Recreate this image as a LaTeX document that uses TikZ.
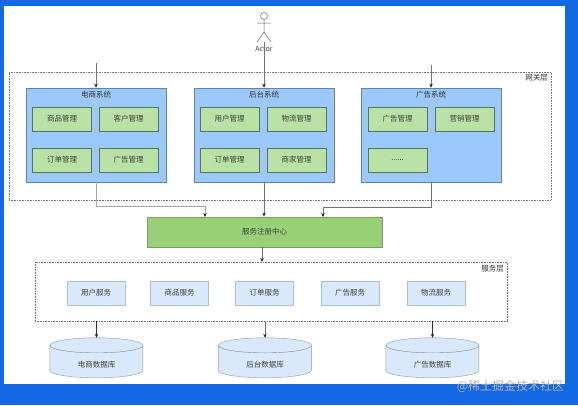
\documentclass[tikz,border=0pt]{standalone}
\usepackage{fontspec}
\setmainfont{Noto Sans CJK SC}
\usetikzlibrary{arrows.meta}
\definecolor{bgblue}{HTML}{1368E4}
\definecolor{sysblue}{HTML}{9CC9FB}
\definecolor{sysedge}{HTML}{5F83A8}
\definecolor{modgreen}{HTML}{B9E0A5}
\definecolor{modedge}{HTML}{56755A}
\definecolor{svcfill}{HTML}{DAE8FC}
\definecolor{svcedge}{HTML}{A9BDD8}
\definecolor{dbedge}{HTML}{8A9AB2}
\definecolor{regfill}{HTML}{97D077}
\definecolor{regedge}{HTML}{7E9A6C}
\tikzset{
  x=1pt,y=-1pt,
  sysbox/.style={draw=sysedge,fill=sysblue,line width=.7pt,inner sep=0pt,minimum width=140pt,minimum height=94pt},
  modbox/.style={draw=modedge,fill=modgreen,line width=.8pt,minimum width=59pt,minimum height=24pt,inner sep=0pt,font=\fontsize{7.5}{9}\selectfont,text=black!75},
  svcbox/.style={draw=svcedge,fill=svcfill,line width=.4pt,minimum width=58pt,minimum height=24pt,inner sep=0pt,font=\fontsize{7.5}{9}\selectfont,text=black!75},
  layerbox/.style={draw=black!55,densely dotted,line width=.6pt,inner sep=0pt},
  dbbox/.style={inner sep=0pt,minimum width=93pt,minimum height=40pt},
  dbline/.style={draw=dbedge,fill=svcfill,line width=.4pt},
  lab/.style={inner sep=0pt,font=\fontsize{7.5}{9}\selectfont,text=black!80},
  conn/.style={draw=black!55,line width=.8pt,-{Stealth[length=4pt,width=3.5pt,color=black!85]}},
}
\newcommand{\dbdraw}[2]{%
  \node[dbbox] (#1) at (#2,358) {};
  \path[dbline] (#1.north west) ++(0,7.5) arc[start angle=180,end angle=360,x radius=46.5,y radius=-7.5] -- ++(0,25) arc[start angle=0,end angle=-180,x radius=46.5,y radius=-7.5] -- cycle;
  \path[dbline] (#1.north) ++(0,7.5) ellipse[x radius=46.5,y radius=7.5];
}
\begin{document}
\begin{tikzpicture}
\useasboundingbox (0,0) rectangle (578,405);
\fill[bgblue] (0,0) rectangle (578,405);
\fill[white] (4,6) rectangle (565,384);
% layers
\node[layerbox,minimum width=542pt,minimum height=128pt] (gw) at (280,136) {};
\node[layerbox,minimum width=472pt,minimum height=59pt] (svclayer) at (271,291.5) {};
\node[lab,anchor=north east] (gwlab) at (548,74.5) {网关层};
\node[lab,anchor=north east] (svclab) at (504,264.5) {服务层};
% systems
\node[sysbox] (s1) at (96,135) {};
\node[sysbox] (s2) at (264,135) {};
\node[sysbox] (s3) at (431,135) {};
\node[lab] (s1t) at (96,94.5) {电商系统};
\node[lab] (s2t) at (264,95) {后台系统};
\node[lab] (s3t) at (431,95) {广告系统};
\node[modbox] (m11) at (62,119) {商品管理};
\node[modbox] (m12) at (128.5,119) {客户管理};
\node[modbox] (m13) at (62,160) {订单管理};
\node[modbox] (m14) at (128.5,160) {广告管理};
\node[modbox] (m21) at (229.5,119) {用户管理};
\node[modbox] (m22) at (296.5,119) {物流管理};
\node[modbox] (m23) at (229.5,160) {订单管理};
\node[modbox] (m24) at (296.5,160) {商家管理};
\node[modbox] (m31) at (397.5,119) {广告管理};
\node[modbox] (m32) at (464.5,119) {营销管理};
\node[modbox] (m33) at (397.5,160) {......};
% registry
\node[draw=regedge,fill=regfill,line width=.8pt,minimum width=235pt,minimum height=30pt,inner sep=0pt,font=\fontsize{7.5}{9}\selectfont,text=black!75] (reg) at (264.5,232) {服务注册中心};
% services
\node[svcbox] (v1) at (96,293) {用户服务};
\node[svcbox] (v2) at (179.5,293) {商品服务};
\node[svcbox] (v3) at (264.5,293) {订单服务};
\node[svcbox] (v4) at (350,293) {广告服务};
\node[svcbox] (v5) at (436,293) {物流服务};
% databases
\dbdraw{d1}{96.5}
\dbdraw{d2}{265}
\dbdraw{d3}{432.5}
\node[lab,text=black!75] (d1t) at (96.5,365) {电商数据库};
\node[lab,text=black!75] (d2t) at (265,365) {后台数据库};
\node[lab,text=black!75] (d3t) at (432.5,365) {广告数据库};
% actor
\coordinate (ah) at (264,16);
\draw[black!60,line width=.5pt,fill=white] (ah) circle (3.5);
\draw[black!60,line width=.5pt] (264,19.5) -- (264,32) (257,23) -- (271,23) (257,42) -- (264,32) -- (271,42);
\node[inner sep=0pt,font=\fontsize{7}{8}\selectfont,text=black!75] (actor) at (264,49) {Actor};
\coordinate (af) at (264,42);
\coordinate (c1) at (96,63);
\coordinate (c3) at (431,65);
% connectors
\draw[conn] (af) -- (s2.north);
\draw[conn,line width=.4pt] (c1) -- (s1.north);
\draw[conn,line width=.4pt] (c3) -- (s3.north);
\draw[conn,draw=black!35] (s1.south) |- (205,206) -- (205,217);
\draw[conn] (s2.south) -- (reg.north -| s2.south);
\draw[conn] (s3.south) |- (323,207) -- (323,217);
\draw[conn] (262,247) -- (262,262);
\draw[conn,draw=black!80] (svclayer.south -| d1.north) -- (d1.north);
\draw[conn] (svclayer.south -| d2.north) -- (d2.north);
\draw[conn,draw=black!80] (svclayer.south -| d3.north) -- (d3.north);
% watermark
\node[text=white!70!black,inner sep=0pt,font=\fontsize{12}{14}\selectfont] (wm) at (510.5,386) {@稀土掘金技术社区};
\end{tikzpicture}
\end{document}
